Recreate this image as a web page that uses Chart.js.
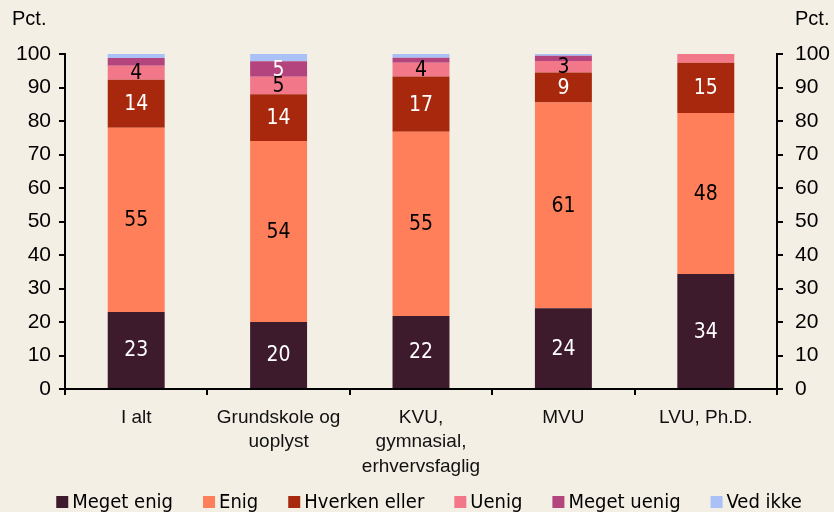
<!DOCTYPE html>
<html>
<head>
<meta charset="utf-8">
<script src="https://cdn.jsdelivr.net/npm/chart.js@4"></script>
<style>
  html, body { margin: 0; padding: 0; background: #f4efe4; }
  #wrap { width: 834px; height: 512px; }
</style>
</head>
<body>
<div id="wrap"><canvas id="chart" width="834" height="512"></canvas></div>
<script>
  var categories = [['I alt'], ['Grundskole og', 'uoplyst'], ['KVU,', 'gymnasial,', 'erhvervsfaglig'], ['MVU'], ['LVU, Ph.D.']]
  var megetEnig  = [23, 20, 21.8, 24.1, 34.3]
  var enig       = [55, 54, 55, 61.4, 48.1]
  var hverken    = [14.3, 14, 16.5, 9, 15]
  var uenig      = [4.2, 5.2, 4.1, 3.4, 2.6]
  var megetUenig = [2.3, 4.6, 1.5, 1.6, 0]
  var vedIkke    = [1.2, 2.2, 1.1, 0.5, 0]
  var yTicks     = [0, 10, 20, 30, 40, 50, 60, 70, 80, 90, 100]

  var narrow    = "'DejaVu Sans Condensed', 'Liberation Sans Narrow', sans-serif"
  var labelFont = "21px " + narrow

  function series(label, data, color, textColor) {
    return { label: label, data: data, backgroundColor: color, borderWidth: 0, textColor: textColor }
  }

  // labels inside the segments (values of 3 or more)
  var segmentLabels = {
    id: 'segmentLabels',
    afterDatasetsDraw: function (chart) {
      var ctx = chart.ctx
      ctx.save()
      ctx.font = labelFont
      ctx.textAlign = 'center'
      ctx.textBaseline = 'middle'
      chart.data.datasets.forEach(function (ds, i) {
        chart.getDatasetMeta(i).data.forEach(function (bar, j) {
          var v = ds.data[j]
          if (v < 3) return
          ctx.fillStyle = ds.textColor
          ctx.fillText(Math.round(v), bar.x, (bar.y + bar.base) / 2 + 1)
        })
      })
      ctx.restore()
    }
  }

  // "Pct." above both axes and the legend row at the bottom
  var extras = {
    id: 'extras',
    afterDraw: function (chart) {
      var ctx = chart.ctx
      ctx.save()
      ctx.font = "20px 'Liberation Sans', sans-serif"
      ctx.fillStyle = '#000'
      ctx.textBaseline = 'middle'
      ctx.textAlign = 'left'
      ctx.fillText('Pct.', 12, 19)
      ctx.fillText('Pct.', 795, 19)

      ctx.font = "20px " + narrow
      var box = 12, gap = 4, space = 30, y = 502
      var items = chart.data.datasets.map(function (ds) {
        return { label: ds.label, color: ds.backgroundColor, w: ctx.measureText(ds.label).width }
      })
      var total = items.reduce(function (s, it) { return s + box + gap + it.w }, 0) + space * (items.length - 1)
      var x = (chart.width - total) / 2 + 12
      items.forEach(function (it) {
        ctx.fillStyle = it.color
        ctx.fillRect(x, y - 6, box, box)
        ctx.fillStyle = '#000'
        ctx.fillText(it.label, x + box + gap, y + 1)
        x += box + gap + it.w + space
      })
      ctx.restore()
    }
  }

  var axisStyle = function (position) {
    return {
      position: position,
      stacked: true,
      min: 0,
      max: 100,
      afterBuildTicks: function (scale) { scale.ticks = yTicks.map(function (v) { return { value: v } }) },
      afterFit: function (scale) { scale.width = position === 'left' ? 65 : 57 },
      grid: { drawOnChartArea: false, tickLength: 6, color: '#000', lineWidth: 2 },
      border: { color: '#000', width: 2 },
      ticks: { color: '#000', font: { family: "'Liberation Sans', sans-serif", size: 21 }, padding: position === 'left' ? 8 : 12 }
    }
  }

  new Chart(document.getElementById('chart'), {
    type: 'bar',
    data: {
      labels: categories,
      datasets: [
        series('Meget enig', megetEnig, '#3d1a2c', '#fff'),
        series('Enig', enig, '#ff7f5b', '#000'),
        series('Hverken eller', hverken, '#a8280d', '#fff'),
        series('Uenig', uenig, '#f27889', '#000'),
        series('Meget uenig', megetUenig, '#b4447e', '#fff'),
        series('Ved ikke', vedIkke, '#a9c1f7', '#000')
      ]
    },
    options: {
      responsive: false,
      animation: false,
      barPercentage: 0.4,
      categoryPercentage: 1,
      layout: { padding: { top: 54, left: 0, right: 0, bottom: 0 } },
      plugins: {
        legend: { display: false },
        tooltip: { enabled: false }
      },
      scales: {
        x: {
          stacked: true,
          afterFit: function (scale) { scale.height = 123 },
          grid: { drawOnChartArea: false, tickLength: 6, color: '#000', lineWidth: 2, offset: true },
          border: { color: '#000', width: 2 },
          ticks: { color: '#111', font: { family: "'Liberation Sans', sans-serif", size: 19, lineHeight: 1.3 }, padding: 10, maxRotation: 0 }
        },
        y: axisStyle('left'),
        y2: axisStyle('right')
      }
    },
    plugins: [segmentLabels, extras]
  })
</script>
</body>
</html>
